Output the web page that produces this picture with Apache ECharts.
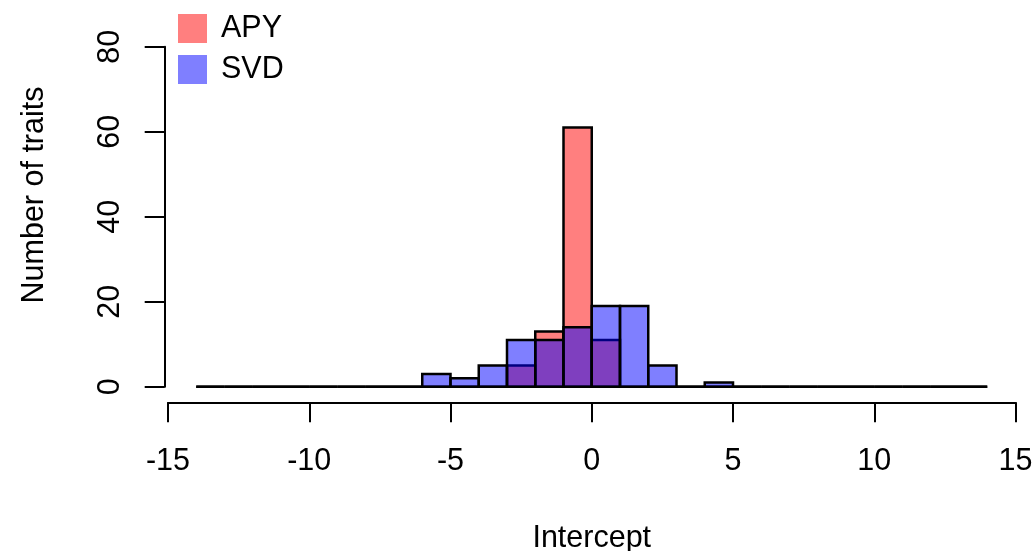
<!DOCTYPE html>
<html>
<head>
<meta charset="utf-8">
<script src="https://cdn.jsdelivr.net/npm/echarts@6/dist/echarts.min.js"></script>
<style>
  html, body { margin: 0; padding: 0; background: #fff; }
  #main { width: 1036px; height: 551px; }
</style>
</head>
<body>
<div id="main"></div>
<script>
// histogram bins, width 1, from -14 to 14
var breaks = [-14, -13, -12, -11, -10, -9, -8, -7, -6, -5, -4, -3, -2, -1, 0,
              1, 2, 3, 4, 5, 6, 7, 8, 9, 10, 11, 12, 13, 14];
var apyCounts = [0, 0, 0, 0, 0, 0, 0, 0, 0, 0, 0, 5, 13, 61,
                 11, 0, 0, 0, 0, 0, 0, 0, 0, 0, 0, 0, 0, 0];
var svdCounts = [0, 0, 0, 0, 0, 0, 0, 0, 3, 2, 5, 11, 11, 14,
                 19, 19, 5, 0, 1, 0, 0, 0, 0, 0, 0, 0, 0, 0];
var xTicks = [-15, -10, -5, 0, 5, 10, 15];
var yTicks = [0, 20, 40, 60, 80];

var font = 'Liberation Sans, Arial, Helvetica, sans-serif';
var fs = 30.5;

function binData(counts) {
    var out = [];
    for (var i = 0; i < counts.length; i++) {
        out.push([breaks[i], breaks[i + 1], counts[i]]);
    }
    return out;
}

function drawBin(params, api) {
    var lo = api.value(0), hi = api.value(1), n = api.value(2);
    var p0 = api.coord([lo, n]);
    var p1 = api.coord([hi, 0]);
    return {
        type: 'rect',
        shape: { x: p0[0], y: p0[1], width: p1[0] - p0[0], height: p1[1] - p0[1] },
        style: { fill: api.visual('color'), stroke: '#000', lineWidth: 2.5 }
    };
}

var chart = echarts.init(document.getElementById('main'));
var option = {
    animation: false,
    backgroundColor: '#fff',
    grid: { left: 168, right: 20.5, top: 46.7, bottom: 164.3, outerBoundsMode: 'none' },
    legend: {
        orient: 'vertical',
        left: 173, top: 8,
        itemWidth: 29, itemHeight: 29, itemGap: 10,
        icon: 'rect',
        itemStyle: { borderWidth: 0 },
        textStyle: { fontFamily: font, fontSize: fs, color: '#000', padding: [0, 0, 0, 9] },
        data: ['APY', 'SVD']
    },
    xAxis: {
        type: 'value',
        min: -15, max: 15, interval: 5,
        offset: 15.6,
        axisLine: { onZero: false, lineStyle: { color: '#000', width: 2 } },
        axisTick: { length: 20, lineStyle: { color: '#000', width: 2 } },
        axisLabel: { fontFamily: font, fontSize: fs, color: '#000', margin: 44,
            formatter: function (v) { return xTicks.indexOf(v) >= 0 ? String(v) : ''; } },
        splitLine: { show: false },
        name: 'Intercept',
        nameLocation: 'middle',
        nameGap: 121,
        nameTextStyle: { fontFamily: font, fontSize: fs, color: '#000' }
    },
    yAxis: {
        type: 'value',
        min: 0, max: 80, interval: 20,
        offset: 3.3,
        axisLine: { show: true, onZero: false, lineStyle: { color: '#000', width: 2 } },
        axisTick: { show: true, length: 20, lineStyle: { color: '#000', width: 2 } },
        axisLabel: { fontFamily: font, fontSize: fs, color: '#000', margin: 39, rotate: 90,
            formatter: function (v) { return yTicks.indexOf(v) >= 0 ? String(v) : ''; } },
        splitLine: { show: false }
    },
    graphic: [{
        type: 'text',
        x: 35, y: 195,
        rotation: Math.PI / 2,
        style: {
            text: 'Number of traits',
            font: fs + 'px ' + font,
            fill: '#000',
            align: 'center',
            verticalAlign: 'middle'
        }
    }],
    series: [
        {
            name: 'APY',
            type: 'custom',
            renderItem: drawBin,
            itemStyle: { color: 'rgba(255,0,0,0.5)' },
            encode: { x: [0, 1], y: 2 },
            data: binData(apyCounts)
        },
        {
            name: 'SVD',
            type: 'custom',
            renderItem: drawBin,
            itemStyle: { color: 'rgba(0,0,255,0.5)' },
            encode: { x: [0, 1], y: 2 },
            data: binData(svdCounts)
        }
    ]
};
chart.setOption(option);
</script>
</body>
</html>
